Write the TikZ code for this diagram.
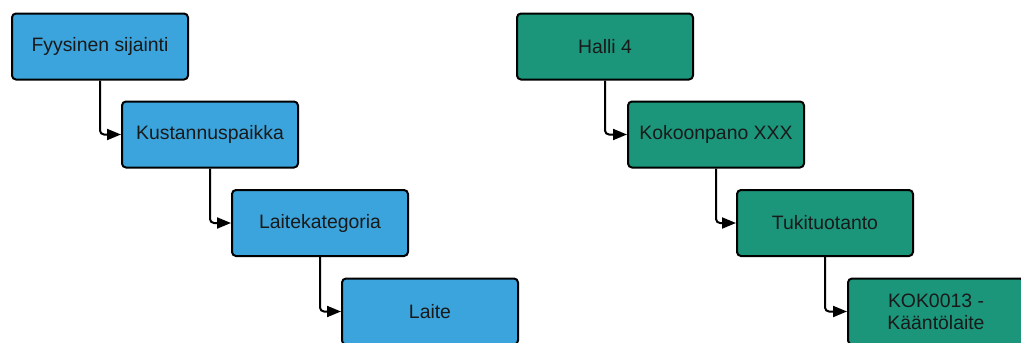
\documentclass[tikz,border=0pt]{standalone}
\usepackage{fontspec}
\setmainfont{Liberation Sans}
\usepackage{tikz}
\usetikzlibrary{arrows.meta, positioning}
\definecolor{LocBlue}{HTML}{3BA4DC}
\definecolor{HallGreen}{HTML}{1B967B}
\tikzset{
  levelbox/.style={rectangle, rounded corners=4pt, draw=black, line width=2pt, minimum width=176pt, minimum height=66pt, font=\fontsize{19.4}{22}\selectfont, align=center, text=black!90},
  bluebox/.style={levelbox, fill=LocBlue},
  greenbox/.style={levelbox, fill=HallGreen},
  arrow/.style={-{Triangle[length=14pt,width=11pt]}, line width=2pt, rounded corners=4pt, black}
}
\begin{document}
\begin{tikzpicture}[x=1pt, y=1pt]
  \useasboundingbox (0,0) rectangle (1021,-343);

  % Left chain
  \node[bluebox] (fys) at (100,-46.5) {Fyysinen sijainti};
  \node[bluebox] (kust) at (210,-134.5) {Kustannuspaikka};
  \node[bluebox] (kat) at (320,-223) {Laitekategoria};
  \node[bluebox] (laite) at (430,-311.5) {Laite};

  % Right chain
  \node[greenbox] (halli) at (605,-46.5) {Halli 4};
  \node[greenbox] (koko) at (716,-134.5) {Kokoonpano XXX};
  \node[greenbox] (tuki) at (825,-223) {Tukituotanto};
  \node[greenbox] (kok) at (936,-311.5) {KOK0013 -\\Kääntölaite};

  % Connectors
  \draw[arrow] (fys.south) |- (kust.west);
  \draw[arrow] (kust.south) |- (kat.west);
  \draw[arrow] (kat.south) |- (laite.west);
  \draw[arrow] (halli.south) |- (koko.west);
  \draw[arrow] (koko.south) |- (tuki.west);
  \draw[arrow] (tuki.south) |- (kok.west);
\end{tikzpicture}
\end{document}
